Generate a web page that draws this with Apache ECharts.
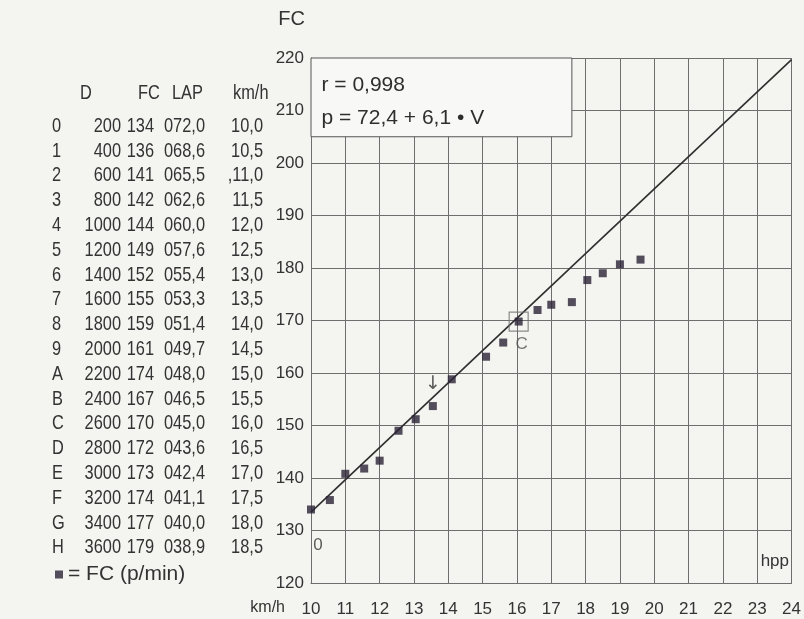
<!DOCTYPE html>
<html>
<head>
<meta charset="utf-8">
<script src="https://cdn.jsdelivr.net/npm/echarts@6/dist/echarts.min.js"></script>
<style>
  html, body { margin: 0; padding: 0; background: #f4f4f1; }
  #chart { width: 804px; height: 619px; }
</style>
</head>
<body>
<div id="chart"></div>
<script>
// Test table: 200 m stages with heart rate, lap time and speed
const rowIds     = ['0','1','2','3','4','5','6','7','8','9','A','B','C','D','E','F','G','H'];
const distances  = ['200','400','600','800','1000','1200','1400','1600','1800','2000','2200','2400','2600','2800','3000','3200','3400','3600'];
const heartRates = ['134','136','141','142','144','149','152','155','159','161','174','167','170','172','173','174','177','179'];
const lapTimes   = ['072,0','068,6','065,5','062,6','060,0','057,6','055,4','053,3','051,4','049,7','048,0','046,5','045,0','043,6','042,4','041,1','040,0','038,9'];
const speeds     = ['10,0','10,5',',11,0','11,5','12,0','12,5','13,0','13,5','14,0','14,5','15,0','15,5','16,0','16,5','17,0','17,5','18,0','18,5'];
const tableHeaders = ['D', 'FC', 'LAP', 'km/h'];

// Plotted heart rate (p/min) against speed (km/h)
const fcPoints = [
  [10, 134], [10.55, 135.8], [11, 140.8], [11.55, 141.8], [12, 143.3],
  [12.55, 149], [13.05, 151.2], [13.55, 153.7], [14.1, 158.8], [15.1, 163.1],
  [15.6, 165.8], [16.05, 169.8], [16.6, 172], [17, 173], [17.6, 173.5],
  [18.05, 177.7], [18.5, 179], [19, 180.7], [19.6, 181.6]
];
const firstPointNote = '0';
const arrowPointIndex = 7;
const markedPoint = [16.05, 169.8];
const markedLabel = 'C';

// Regression line and its statistics
const fitLine = [[10, 133.5], [24, 219.7]];
const fitStats = ['r = 0,998', 'p = 72,4 + 6,1 • V'];
const statsBox = [[10, 205], [17.6, 220]];

const xRange = [10, 24];
const yRange = [120, 220];

const TEXT = '#333333';
const GRID = '#6e6e6e';
const SANS = "'Liberation Sans', Arial, sans-serif";

const chart = echarts.init(document.getElementById('chart'), null, { renderer: 'canvas' });

// Table drawn as condensed text
const tableFont = { fontSize: 21, fontFamily: SANS, fill: TEXT };
const squeeze = 0.78;
function cell(text, x, y, align) {
  return {
    type: 'text', x: x, y: y, scaleX: squeeze,
    style: Object.assign({ text: text, align: align, verticalAlign: 'middle' }, tableFont)
  };
}
const tableTop = 126, rowStep = 24.8, headerY = 93;
const tableEls = [
  cell(tableHeaders[0], 86, headerY, 'center'),
  cell(tableHeaders[1], 138, headerY, 'left'),
  cell(tableHeaders[2], 172, headerY, 'left'),
  cell(tableHeaders[3], 233, headerY, 'left')
];
rowIds.forEach(function (id, i) {
  const y = tableTop + i * rowStep;
  tableEls.push(cell(id, 52, y, 'left'));
  tableEls.push(cell(distances[i], 121, y, 'right'));
  tableEls.push(cell(heartRates[i], 154, y, 'right'));
  tableEls.push(cell(lapTimes[i], 205, y, 'right'));
  tableEls.push(cell(speeds[i], 263, y, 'right'));
});
tableEls.push({
  type: 'text', x: 789, y: 561,
  style: { text: 'hpp', align: 'right', verticalAlign: 'middle', fontSize: 17, fontFamily: SANS, fill: TEXT }
});

const pointData = fcPoints.map(function (p, i) {
  if (i === 0) {
    return { value: p, label: { show: true, formatter: firstPointNote, position: 'bottom', distance: 23, offset: [7, 0], fontSize: 17, fontFamily: SANS, color: TEXT } };
  }
  if (i === arrowPointIndex) {
    return { value: p, label: { show: true, formatter: '↓', position: 'top', distance: 9, fontSize: 19, fontFamily: "'DejaVu Sans', sans-serif", color: '#333' } };
  }
  return p;
});

chart.setOption({
  backgroundColor: '#f4f4f1',
  animation: false,
  grid: { left: 311, right: 12, top: 58, bottom: 36, containLabel: false },
  legend: {
    data: ['FC (p/min)'],
    left: 50, top: 559,
    icon: 'rect', itemWidth: 8, itemHeight: 8, itemGap: 10,
    formatter: function () { return '= FC (p/min)'; },
    textStyle: { fontSize: 21, fontFamily: SANS, color: TEXT }
  },
  xAxis: {
    type: 'value', min: xRange[0], max: xRange[1], interval: 1,
    name: 'km/h', nameLocation: 'start', nameGap: 26,
    nameTextStyle: { fontSize: 16, fontFamily: SANS, color: TEXT, verticalAlign: 'top', padding: [17, 0, 0, 0] },
    axisLine: { show: true, lineStyle: { color: GRID, width: 1 } },
    axisTick: { show: false },
    axisLabel: { margin: 18, fontSize: 17, fontFamily: SANS, color: TEXT },
    splitLine: { show: true, lineStyle: { color: GRID, width: 1 } }
  },
  yAxis: {
    type: 'value', min: yRange[0], max: yRange[1], interval: 10,
    name: 'FC', nameLocation: 'end', nameGap: 29,
    nameTextStyle: { fontSize: 20, fontFamily: SANS, color: TEXT, align: 'right', padding: [0, 6, 0, 0] },
    axisLine: { show: true, lineStyle: { color: GRID, width: 1 } },
    axisTick: { show: false },
    axisLabel: { margin: 7, fontSize: 17, fontFamily: SANS, color: TEXT },
    splitLine: { show: true, lineStyle: { color: GRID, width: 1 } }
  },
  graphic: tableEls,
  series: [
    {
      name: 'fit', type: 'line', data: fitLine, symbol: 'none', silent: true,
      lineStyle: { color: '#2e2e2e', width: 1.6 },
      z: 2,
      markArea: {
        silent: true,
        itemStyle: { color: '#f8f8f6', borderColor: '#555', borderWidth: 1 },
        label: {
          show: true, position: [11, 11],
          formatter: fitStats.join('\n'),
          fontSize: 21, lineHeight: 33, fontFamily: SANS, color: '#2e2e2e'
        },
        data: [[{ coord: statsBox[0] }, { coord: statsBox[1] }]]
      }
    },
    {
      name: 'FC (p/min)', type: 'scatter', data: pointData,
      symbol: 'rect', symbolSize: 8,
      itemStyle: { color: '#2a2236' },
      z: 4
    },
    {
      name: 'marked', type: 'scatter', data: [markedPoint],
      symbol: 'rect', symbolSize: 19,
      itemStyle: { color: 'rgba(0,0,0,0)', borderColor: '#707070', borderWidth: 1.2 },
      label: { show: true, formatter: markedLabel, position: 'bottom', distance: 4, offset: [3, 0], fontSize: 17, fontFamily: SANS, color: '#555' },
      z: 3
    }
  ]
});
</script>
</body>
</html>
